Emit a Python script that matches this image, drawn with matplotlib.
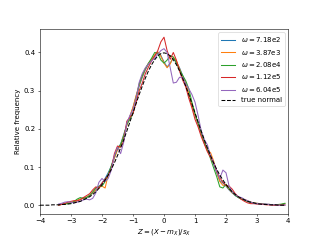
import numpy as np
import matplotlib.pyplot as plt

# grid the estimated densities were read on
z = np.round(np.arange(-3.4, 3.95, 0.1), 1)

omegas = ['7.18e2', '3.87e3', '2.08e4', '1.12e5', '6.04e5']

dens_718e2 = [.001, .002, .004, .005, .006, .008, .012, .016, .019, .020,
              .024, .032, .040, .048, .058, .070, .085, .102, .125, .148,
              .160, .185, .210, .232, .255, .285, .312, .335, .355, .370,
              .380, .392, .400, .392, .375, .362, .372, .385, .375, .360,
              .340, .318, .290, .262, .236, .212, .186, .162, .145, .128,
              .108, .085, .064, .058, .050, .040, .032, .025, .020, .016,
              .013, .010, .007, .006, .005, .004, .003, .002, .002, .001,
              .001, .001, .002, .003]
dens_387e3 = [.001, .002, .004, .005, .007, .009, .013, .016, .018, .021,
              .025, .033, .040, .046, .050, .045, .080, .100, .123, .145,
              .158, .182, .208, .233, .257, .287, .315, .338, .357, .372,
              .382, .394, .402, .390, .372, .360, .370, .388, .378, .358,
              .336, .320, .292, .262, .236, .214, .188, .165, .142, .138,
              .116, .088, .062, .052, .052, .042, .033, .026, .021, .016,
              .015, .011, .008, .006, .005, .004, .003, .002, .002, .001,
              .001, .001, .002, .004]
dens_208e4 = [.001, .002, .003, .004, .006, .010, .016, .020, .018, .020,
              .026, .035, .045, .050, .050, .062, .080, .103, .128, .150,
              .158, .180, .212, .225, .240, .280, .318, .340, .358, .372,
              .385, .400, .398, .380, .372, .380, .392, .388, .372, .355,
              .340, .326, .305, .270, .240, .215, .190, .165, .146, .122,
              .098, .075, .048, .045, .055, .044, .035, .026, .020, .016,
              .013, .010, .007, .005, .004, .003, .003, .002, .002, .001,
              .001, .002, .003, .005]
dens_112e5 = [.000, .002, .005, .008, .010, .012, .011, .014, .020, .025,
              .030, .040, .048, .045, .058, .068, .078, .095, .135, .155,
              .152, .168, .220, .230, .240, .270, .300, .320, .345, .362,
              .378, .390, .405, .428, .440, .405, .382, .400, .380, .352,
              .328, .310, .280, .255, .225, .205, .180, .160, .140, .125,
              .110, .090, .072, .060, .052, .050, .042, .030, .022, .015,
              .010, .006, .004, .004, .003, .003, .002, .001, .001, .000,
              .000, .000, .000, .000]
dens_604e5 = [.003, .005, .008, .009, .008, .006, .008, .010, .014, .016,
              .014, .018, .032, .060, .070, .062, .070, .092, .130, .152,
              .135, .165, .215, .235, .250, .280, .322, .345, .360, .370,
              .378, .385, .395, .405, .410, .400, .360, .320, .322, .335,
              .335, .318, .305, .290, .270, .235, .195, .172, .158, .130,
              .112, .090, .070, .092, .085, .050, .035, .028, .022, .020,
              .015, .012, .008, .005, .004, .003, .003, .003, .002, .001,
              .001, .000, .000, .000]

# reference standard normal curve
z_norm = np.round(np.arange(-4.0, 3.95, 0.1), 1)
pdf_norm = [.000, .000, .000, .000, .001, .001, .001, .002, .002, .003, .004,
            .006, .008, .010, .014, .018, .022, .028, .035, .044, .054,
            .066, .079, .094, .111, .130, .150, .171, .194, .218, .242,
            .266, .290, .312, .333, .352, .368, .381, .391, .397, .399,
            .397, .391, .381, .368, .352, .333, .312, .290, .266, .242,
            .218, .194, .171, .150, .130, .111, .094, .079, .066, .054,
            .044, .035, .028, .022, .018, .014, .010, .008, .006, .004,
            .003, .002, .002, .001, .001, .001, .000, .000, .000]

fig, ax = plt.subplots(figsize=(6.4, 4.8), dpi=50)
for w, d in zip(omegas, [dens_718e2, dens_387e3, dens_208e4, dens_112e5, dens_604e5]):
    ax.plot(z, d, label=r'$\omega = $' + w)
ax.plot(z_norm, pdf_norm, 'k--', label='true normal')

ax.set_xlim(-4, 4)
ax.set_xlabel(r'$Z = (X - m_X)/s_X$')
ax.set_ylabel('Relative frequency')
ax.legend(loc='upper right')

plt.savefig('out.png')
